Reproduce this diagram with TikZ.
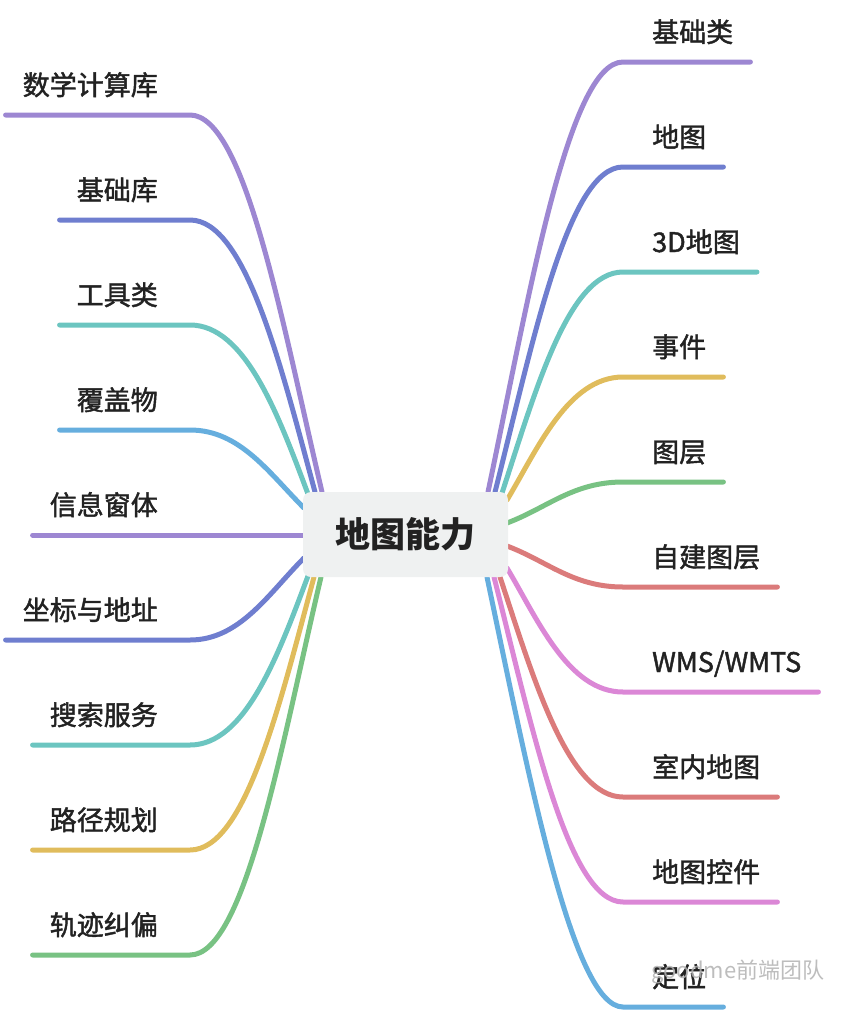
\documentclass[tikz,border=0pt]{standalone}
\usepackage{fontspec}
\setmainfont{Noto Sans CJK SC}
\newfontfamily\midfont{Noto Sans CJK SC}[RawFeature={embolden=1.6}]
\usetikzlibrary{positioning}
\definecolor{cPurple}{RGB}{157, 135, 210}
\definecolor{cIndigo}{RGB}{111, 126, 207}
\definecolor{cTeal}  {RGB}{108, 197, 192}
\definecolor{cSky}   {RGB}{102, 174, 222}
\definecolor{cGold}  {RGB}{224, 188, 92}
\definecolor{cGreen} {RGB}{120, 194, 131}
\definecolor{cRed}   {RGB}{219, 123, 123}
\definecolor{cPink}  {RGB}{219, 135, 214}
\definecolor{cRoot}  {RGB}{239, 241, 241}
\definecolor{cText}  {RGB}{34,  34,  34}
\tikzset{
  root/.style = {fill=cRoot, rounded corners=8pt, minimum width=205pt,
                 minimum height=85pt, text=cText,
                 font=\fontsize{35}{40}\selectfont\bfseries},
  lbl/.style  = {inner xsep=17pt, inner ysep=0pt, text=cText,
                 font=\midfont\fontsize{27}{30}\selectfont},
  lblL/.style = {lbl, anchor=base east},
  lblR/.style = {lbl, anchor=base west},
  br/.style   = {line width=5pt, line cap=round},
  wmark/.style= {text=gray!60, opacity=0.85,
                 font=\fontsize{22}{24}\selectfont},
}

\begin{document}
\begin{tikzpicture}[x=1pt, y=-1pt]
\useasboundingbox (0,0) rectangle (844,1012);

%% ─── Left branches ───────────────────────────────────────────────
\coordinate (kL1) at (190,115);
\coordinate (kL2) at (190,220);
\coordinate (kL3) at (190,325);
\coordinate (kL4) at (190,430);
\coordinate (kL5) at (304,535);
\coordinate (kL6) at (190,640);
\coordinate (kL7) at (190,745);
\coordinate (kL8) at (190,850);
\coordinate (kL9) at (190,955);

\node[lblL] (math)   at (175, 95)  {数学计算库};
\node[lblL] (baselib)at (175, 200) {基础库};
\node[lblL] (tools)  at (175, 305) {工具类};
\node[lblL] (overlay)at (175, 410) {覆盖物};
\node[lblL] (infow)  at (175, 515) {信息窗体};
\node[lblL] (geo)    at (175, 620) {坐标与地址};
\node[lblL] (search) at (175, 725) {搜索服务};
\node[lblL] (route)  at (175, 830) {路径规划};
\node[lblL] (track)  at (175, 935) {轨迹纠偏};

\draw[br, cPurple] (math.west |- kL1) -- (kL1)
  .. controls +(55,0) and +(-40,-170) .. (322,492);
\draw[br, cIndigo] (baselib.west |- kL2) -- (kL2)
  .. controls +(55,0) and +(-35,-130) .. (315,492);
\draw[br, cTeal]   (tools.west |- kL3) -- (kL3)
  .. controls +(55,0) and +(-30,-80) .. (308,494);
\draw[br, cSky]    (overlay.west |- kL4) -- (kL4)
  .. controls +(50,0) and +(-35,-35) .. (304,508);
\draw[br, cPurple] (infow.west |- kL5) -- (kL5);
\draw[br, cIndigo] (geo.west |- kL6) -- (kL6)
  .. controls +(50,0) and +(-35,35) .. (304,558);
\draw[br, cTeal]   (search.west |- kL7) -- (kL7)
  .. controls +(55,0) and +(-30,80) .. (308,576);
\draw[br, cGold]   (route.west |- kL8) -- (kL8)
  .. controls +(55,0) and +(-35,130) .. (314,577);
\draw[br, cGreen]  (track.west |- kL9) -- (kL9)
  .. controls +(55,0) and +(-40,170) .. (321,577);

%% ─── Right branches ──────────────────────────────────────────────
\coordinate (kR1)  at (623,62);
\coordinate (kR2)  at (623,167);
\coordinate (kR3)  at (623,272);
\coordinate (kR4)  at (623,377);
\coordinate (kR5)  at (623,482);
\coordinate (kR6)  at (623,587);
\coordinate (kR7)  at (623,692);
\coordinate (kR8)  at (623,797);
\coordinate (kR9)  at (623,902);
\coordinate (kR10) at (623,1007);

\node[lblR] (basecls)at (635, 42)  {基础类};
\node[lblR] (map)    at (635, 147) {地图};
\node[lblR] (map3d)  at (635, 252) {3D地图};
\node[lblR] (event)  at (635, 357) {事件};
\node[lblR] (layer)  at (635, 462) {图层};
\node[lblR] (custom) at (635, 567) {自建图层};
\node[lblR] (wms)    at (635, 672) {WMS/WMTS};
\node[lblR] (indoor) at (635, 777) {室内地图};
\node[lblR] (ctrl)   at (635, 882) {地图控件};
\node[lblR] (locate) at (635, 987) {定位};

\draw[br, cPurple] (basecls.east |- kR1) -- (kR1)
  .. controls +(-55,0) and +(40,-190) .. (488,492);
\draw[br, cIndigo] (map.east |- kR2) -- (kR2)
  .. controls +(-55,0) and +(38,-150) .. (495,492);
\draw[br, cTeal]   (map3d.east |- kR3) -- (kR3)
  .. controls +(-55,0) and +(33,-100) .. (502,493);
\draw[br, cGold]   (event.east |- kR4) -- (kR4)
  .. controls +(-55,0) and +(30,-50) .. (507,500);
\draw[br, cGreen]  (layer.east |- kR5) -- (kR5)
  .. controls +(-50,0) and +(40,-15) .. (507,523);
\draw[br, cRed]    (custom.east |- kR6) -- (kR6)
  .. controls +(-50,0) and +(40,15) .. (507,546);
\draw[br, cPink]   (wms.east |- kR7) -- (kR7)
  .. controls +(-55,0) and +(30,50) .. (507,568);
\draw[br, cRed]    (indoor.east |- kR8) -- (kR8)
  .. controls +(-55,0) and +(33,100) .. (500,577);
\draw[br, cPink]   (ctrl.east |- kR9) -- (kR9)
  .. controls +(-55,0) and +(38,150) .. (494,577);
\draw[br, cSky]    (locate.east |- kR10) -- (kR10)
  .. controls +(-50,0) and +(42,200) .. (487,577);

%% ─── Root ────────────────────────────────────────────────────────
\node[root] (ability) at (405.5,534.5) {地图能力};

%% ─── Watermark ───────────────────────────────────────────────────
\node[wmark, anchor=west] (wm) at (648,972) {goodme前端团队};

\end{tikzpicture}
\end{document}
